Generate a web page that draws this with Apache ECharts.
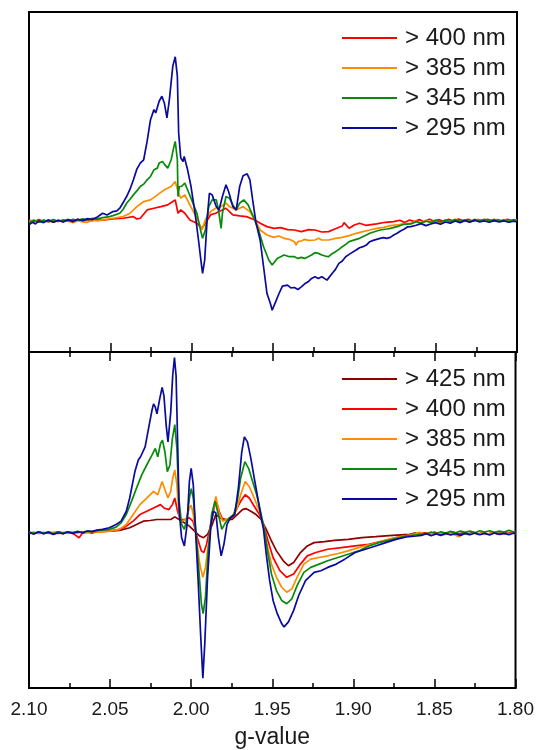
<!DOCTYPE html>
<html>
<head>
<meta charset="utf-8">
<script src="https://cdn.jsdelivr.net/npm/echarts@6/dist/echarts.min.js"></script>
<style>
html,body{margin:0;padding:0;background:#fff;}
#c{width:537px;height:750px;}
</style>
</head>
<body>
<div id="c"></div>
<script>
// ---- Data (g-value, intensity a.u.) as flat [g, v, g, v, ...] lists ----
const topLabels = ['> 400 nm', '> 385 nm', '> 345 nm', '> 295 nm'];
const botLabels = ['> 425 nm', '> 400 nm', '> 385 nm', '> 345 nm', '> 295 nm'];
const xTickLabels = ['2.10', '2.05', '2.00', '1.95', '1.90', '1.85', '1.80'];

const top400 = [2.100,0.03, 2.097,-0.03, 2.094,0.04, 2.091,-0.02, 2.088,0.03, 2.085,-0.04, 2.082,0.02, 2.079,-0.02, 2.076,0.04, 2.073,0.0, 2.070,0.05, 2.067,-0.01, 2.064,0.04, 2.061,0.01, 2.058,0.05,
 2.0547,0.02, 2.0484,0.06, 2.0421,0.08, 2.0358,0.13, 2.0337,0.06, 2.0316,0.08, 2.0274,0.33, 2.0232,0.38, 2.0189,0.43, 2.0147,0.48, 2.0116,0.58, 2.0101,0.63, 2.0084,0.23, 2.0067,0.33, 2.0042,0.23,
 2.0011,0.03, 1.9968,-0.07, 1.9937,-0.22, 1.9916,-0.07, 1.9884,0.18, 1.9853,0.23, 1.9789,0.38, 1.9747,0.18, 1.9705,0.15, 1.9663,0.13, 1.9611,0.03, 1.9579,-0.07, 1.9537,-0.17, 1.9495,-0.22, 1.9453,-0.2,
 1.941,-0.26, 1.9368,-0.27, 1.9326,-0.32, 1.928,-0.26, 1.9242,-0.27, 1.920,-0.33, 1.9158,-0.32, 1.912,-0.24, 1.9074,-0.15, 1.9063,-0.05, 1.9032,-0.22, 1.900,-0.12, 1.8968,-0.07, 1.893,-0.13, 1.8863,-0.09, 1.881,-0.04, 1.8758,-0.02,
 1.872,0.02, 1.869,-0.05, 1.866,0.03, 1.863,-0.02, 1.860,0.04, 1.857,-0.03, 1.854,0.05, 1.851,0.0, 1.848,0.04, 1.845,-0.02, 1.842,0.05, 1.839,0.0, 1.836,0.06, 1.833,0.01, 1.830,0.05, 1.827,-0.01,
 1.824,0.04, 1.821,0.01, 1.818,0.05, 1.815,-0.01, 1.812,0.04, 1.809,0.0, 1.806,0.05, 1.803,0.01, 1.800,0.03];

const top385 = [2.100,-0.02, 2.097,0.03, 2.094,-0.03, 2.091,0.02, 2.088,-0.04, 2.085,0.01, 2.082,-0.02, 2.079,0.03, 2.076,-0.01, 2.073,-0.05, 2.070,0.01, 2.067,-0.03, 2.064,-0.04, 2.061,0.02, 2.058,0.0,
 2.0547,0.03, 2.0484,0.08, 2.0421,0.13, 2.0379,0.23, 2.0337,0.43, 2.0295,0.58, 2.0253,0.63, 2.0211,0.78, 2.0168,0.93, 2.0126,1.03, 2.0101,1.18, 2.0084,0.88, 2.0067,0.68, 2.0042,0.78, 2.0011,0.48,
 1.9979,0.18, 1.9954,-0.07, 1.9937,-0.27, 1.9916,0.03, 1.9884,0.28, 1.9853,0.38, 1.9821,0.43, 1.9789,0.53, 1.9768,0.43, 1.9726,0.33, 1.9684,0.43, 1.9642,0.28, 1.9611,0.03, 1.9579,-0.27, 1.9537,-0.42,
 1.9495,-0.49, 1.9465,-0.45, 1.9432,-0.52, 1.9400,-0.55, 1.9368,-0.62, 1.9358,-0.72, 1.9347,-0.62, 1.9326,-0.60, 1.9305,-0.55, 1.9284,-0.58, 1.9242,-0.57, 1.9220,-0.52, 1.9200,-0.57, 1.9158,-0.57, 1.9116,-0.52, 1.9074,-0.49, 1.9032,-0.44,
 1.8989,-0.37, 1.8947,-0.32, 1.8905,-0.27, 1.8863,-0.22, 1.8821,-0.19, 1.8779,-0.14, 1.8737,-0.12, 1.8695,-0.08, 1.8653,-0.07,
 1.862,0.0, 1.859,-0.06, 1.856,0.02, 1.853,-0.04, 1.850,0.03, 1.847,-0.08, 1.844,0.02, 1.841,-0.03, 1.838,0.05, 1.835,-0.02, 1.832,0.03, 1.829,-0.04, 1.826,0.05, 1.823,0.01, 1.820,0.04, 1.817,-0.02,
 1.814,0.05, 1.811,0.0, 1.808,0.04, 1.805,-0.01, 1.802,0.03, 1.800,0.02];

const top345 = [2.100,-0.05, 2.097,0.02, 2.094,-0.04, 2.091,0.03, 2.088,-0.02, 2.085,0.04, 2.082,-0.01, 2.079,0.03, 2.076,0.0, 2.073,0.05, 2.070,0.02, 2.067,0.06, 2.064,0.03, 2.061,0.08, 2.058,0.06,
 2.0547,0.10, 2.0505,0.13, 2.0484,0.16, 2.0442,0.23, 2.0421,0.35, 2.0400,0.53, 2.0379,0.65, 2.0358,0.78, 2.0337,0.90, 2.0316,1.03, 2.0295,1.10, 2.0274,1.23, 2.0253,1.33, 2.0232,1.53, 2.0211,1.58,
 2.0200,1.73, 2.0179,1.78, 2.0168,1.70, 2.0147,1.58, 2.0126,1.83, 2.0109,2.23, 2.0101,2.38, 2.0088,1.83, 2.0084,0.73, 2.0076,1.03, 2.0063,1.03, 2.0042,1.13, 2.0021,0.88, 2.0000,0.63, 1.9968,0.23,
 1.9941,-0.37, 1.9933,-0.52, 1.9916,-0.27, 1.9895,0.43, 1.9874,0.63, 1.9848,0.63, 1.9832,0.23, 1.9819,-0.22, 1.9811,0.23, 1.9789,0.73, 1.9768,0.68, 1.9747,0.48, 1.9726,0.33, 1.9705,0.53, 1.9680,0.63,
 1.9653,0.48, 1.9621,0.13, 1.9589,-0.27, 1.9558,-0.77, 1.9526,-1.17, 1.9505,-1.32, 1.9474,-1.12, 1.9432,-1.02, 1.9400,-1.07, 1.9368,-1.07, 1.9347,-1.12, 1.9326,-1.09, 1.9305,-1.12, 1.9284,-1.07,
 1.9263,-1.02, 1.9242,-0.95, 1.9221,-0.97, 1.9200,-1.02, 1.9179,-1.05, 1.9158,-1.07, 1.9137,-0.98, 1.9116,-0.92, 1.9095,-0.85, 1.9074,-0.77, 1.9053,-0.70, 1.9032,-0.62, 1.8989,-0.55, 1.8968,-0.52,
 1.8926,-0.42, 1.8905,-0.37, 1.8863,-0.30, 1.8842,-0.27, 1.8800,-0.24, 1.8779,-0.22, 1.8737,-0.17, 1.8695,-0.10, 1.8653,-0.09,
 1.862,-0.02, 1.859,-0.07, 1.856,0.0, 1.853,-0.05, 1.850,0.02, 1.847,-0.03, 1.844,0.03, 1.841,-0.02, 1.838,0.04, 1.835,-0.01, 1.832,0.03, 1.829,-0.02, 1.826,0.04, 1.823,0.0, 1.820,0.05, 1.817,0.01,
 1.814,0.04, 1.811,-0.01, 1.808,0.03, 1.805,-0.02, 1.802,0.04, 1.800,-0.01];

const top295 = [2.100,-0.12, 2.098,-0.04, 2.096,-0.09, 2.094,0.0, 2.091,-0.05, 2.088,0.03, 2.085,-0.04, 2.082,0.02, 2.079,-0.03, 2.076,0.04, 2.073,-0.02, 2.070,0.05, 2.067,0.01, 2.064,0.07, 2.061,0.04, 2.058,0.12,
 2.0547,0.23, 2.052,0.18, 2.0484,0.28, 2.046,0.30, 2.0442,0.38, 2.0421,0.55, 2.0400,0.73, 2.0379,0.95, 2.0358,1.23, 2.0337,1.55, 2.0316,1.73, 2.0295,1.83, 2.0274,2.38, 2.0253,3.03, 2.0232,3.33,
 2.0221,3.23, 2.0200,3.58, 2.0183,3.73, 2.0168,3.53, 2.0152,3.08, 2.0137,3.63, 2.0116,4.63, 2.0101,4.91, 2.0088,4.33, 2.0080,2.63, 2.0067,1.88, 2.0053,1.78, 2.0046,1.93, 2.0038,1.88, 2.0025,1.53,
 2.0004,1.03, 1.9979,0.23, 1.9958,-0.57, 1.9941,-1.27, 1.9933,-1.57, 1.9920,-1.17, 1.9905,0.03, 1.9891,0.83, 1.9874,0.78, 1.9849,0.43, 1.9832,0.33, 1.9811,0.73, 1.9789,1.08, 1.9773,0.88, 1.9747,0.43,
 1.9726,0.33, 1.9705,1.03, 1.9684,1.35, 1.9659,1.41, 1.9642,1.23, 1.9625,0.63, 1.9604,-0.07, 1.9579,-0.57, 1.9558,-1.37, 1.9537,-2.17, 1.9516,-2.47, 1.9505,-2.67, 1.9484,-2.42, 1.9463,-2.17,
 1.9442,-1.95, 1.9411,-1.92, 1.9390,-2.0, 1.9368,-1.99, 1.9347,-2.05, 1.9326,-1.97, 1.9305,-1.88, 1.9284,-1.82, 1.9263,-1.72, 1.9242,-1.67, 1.9221,-1.72, 1.9200,-1.67, 1.9168,-1.77, 1.9137,-1.57,
 1.9116,-1.45, 1.9095,-1.27, 1.9074,-1.2, 1.9053,-1.07, 1.9032,-1.0, 1.8989,-0.87, 1.8968,-0.8, 1.8947,-0.77, 1.8926,-0.72, 1.8905,-0.62, 1.8884,-0.58, 1.8863,-0.55, 1.8842,-0.52, 1.8821,-0.50,
 1.8800,-0.52, 1.8779,-0.49, 1.8758,-0.42, 1.8737,-0.37, 1.8716,-0.30, 1.8695,-0.25, 1.8674,-0.18, 1.8653,-0.17,
 1.862,-0.13, 1.859,-0.08, 1.856,-0.14, 1.853,-0.09, 1.850,-0.05, 1.847,-0.1, 1.844,-0.03, 1.841,-0.07, 1.838,0.0, 1.835,-0.05, 1.832,0.01, 1.829,-0.04, 1.826,0.02, 1.823,-0.03, 1.820,0.0, 1.817,-0.04,
 1.814,0.01, 1.811,-0.03, 1.808,0.0, 1.805,-0.04, 1.802,-0.01, 1.800,-0.02];

const bot425 = [2.100,0.01, 2.097,-0.02, 2.094,0.02, 2.091,-0.02, 2.088,0.02, 2.085,-0.01, 2.082,0.03, 2.079,-0.01, 2.076,0.02, 2.073,-0.01, 2.070,0.03, 2.067,0.0, 2.064,0.03, 2.061,0.01, 2.058,0.04,
 2.0505,0.05, 2.0442,0.07, 2.0379,0.15, 2.0337,0.25, 2.0295,0.35, 2.0253,0.37, 2.0211,0.40, 2.0168,0.40, 2.0126,0.40, 2.0101,0.48, 2.0074,0.40, 2.0042,0.30, 2.0011,0.20, 1.9979,0.05, 1.9947,-0.10,
 1.9924,-0.15, 1.9899,-0.05, 1.9874,0.20, 1.9848,0.55, 1.9821,0.45, 1.9789,0.40, 1.9747,0.40, 1.9716,0.55, 1.9684,0.70, 1.9663,0.73, 1.9632,0.65, 1.9600,0.55, 1.9568,0.40, 1.9537,0.10, 1.9505,-0.25,
 1.9474,-0.55, 1.9432,-0.85, 1.9400,-1.00, 1.9368,-0.90, 1.9326,-0.60, 1.9284,-0.40, 1.9242,-0.30, 1.9179,-0.27, 1.9116,-0.23, 1.9032,-0.20, 1.8947,-0.15, 1.8863,-0.12, 1.8758,-0.08, 1.8653,-0.05,
 1.862,-0.01, 1.859,-0.05, 1.856,0.0, 1.853,-0.04, 1.850,0.01, 1.847,-0.03, 1.844,0.0, 1.841,-0.04, 1.838,0.01, 1.835,-0.03, 1.832,0.0, 1.829,-0.04, 1.826,0.01, 1.823,-0.03, 1.820,0.0, 1.817,-0.04,
 1.814,0.0, 1.811,-0.03, 1.808,0.01, 1.805,-0.02, 1.802,0.0, 1.800,-0.02];

const bot400 = [2.100,0.0, 2.097,-0.03, 2.094,0.02, 2.091,-0.02, 2.088,0.01, 2.085,-0.04, 2.082,0.01, 2.079,-0.03, 2.076,0.02, 2.073,-0.02, 2.0691,-0.15, 2.067,-0.01, 2.064,0.02, 2.061,-0.01, 2.058,0.03,
 2.0505,0.05, 2.0442,0.10, 2.0400,0.20, 2.0358,0.35, 2.0316,0.55, 2.0274,0.65, 2.0232,0.75, 2.0189,0.85, 2.0168,0.75, 2.0137,0.70, 2.0116,0.85, 2.0101,1.05, 2.0084,0.65, 2.0067,0.40, 2.0042,0.40,
 2.0011,0.45, 1.9989,0.35, 1.9962,-0.15, 1.9937,-0.55, 1.9922,-0.60, 1.9905,-0.35, 1.9884,0.15, 1.9863,0.65, 1.9848,1.00, 1.9827,0.65, 1.9806,0.40, 1.9779,0.40, 1.9747,0.45, 1.9716,0.75, 1.9695,0.95,
 1.9667,1.15, 1.9642,1.05, 1.9611,0.80, 1.9579,0.55, 1.9554,0.25, 1.9526,-0.25, 1.9495,-0.75, 1.9453,-1.15, 1.9411,-1.35, 1.9368,-1.25, 1.9326,-0.95, 1.9284,-0.70, 1.9232,-0.60, 1.9158,-0.50,
 1.9074,-0.45, 1.8989,-0.40, 1.8905,-0.35, 1.8821,-0.25, 1.8737,-0.15, 1.8653,-0.07,
 1.862,-0.02, 1.859,-0.06, 1.856,0.0, 1.853,-0.04, 1.850,0.01, 1.847,-0.05, 1.844,-0.01, 1.841,-0.04, 1.838,0.0, 1.835,-0.05, 1.832,-0.01, 1.829,-0.04, 1.826,0.0, 1.823,-0.05, 1.820,-0.01, 1.817,-0.04,
 1.814,0.0, 1.811,-0.03, 1.808,-0.01, 1.805,-0.04, 1.802,0.0, 1.800,-0.02];

const bot385 = [2.100,-0.01, 2.097,0.02, 2.094,-0.03, 2.091,0.01, 2.088,-0.02, 2.085,0.02, 2.082,-0.03, 2.079,0.01, 2.076,-0.02, 2.073,0.02, 2.070,-0.01, 2.067,0.03, 2.064,0.0, 2.061,0.04, 2.058,0.02,
 2.0505,0.05, 2.0442,0.10, 2.0400,0.25, 2.0358,0.55, 2.0316,0.85, 2.0274,1.05, 2.0232,1.25, 2.0206,1.15, 2.0179,1.55, 2.0158,1.25, 2.0143,1.05, 2.0126,1.25, 2.0114,1.65, 2.0101,1.90, 2.0088,1.45,
 2.0076,0.55, 2.0059,0.35, 2.0032,0.40, 2.0011,0.75, 2.0000,0.83, 1.9987,0.55, 1.9968,-0.15, 1.9947,-0.95, 1.9928,-1.35, 1.9912,-1.05, 1.9891,-0.25, 1.9870,0.55, 1.9848,1.10, 1.9827,0.60, 1.9806,0.35,
 1.9779,0.40, 1.9747,0.50, 1.9716,0.75, 1.9695,1.15, 1.9667,1.55, 1.9642,1.40, 1.9611,1.05, 1.9579,0.65, 1.9554,0.25, 1.9533,-0.35, 1.9505,-0.95, 1.9474,-1.35, 1.9442,-1.65, 1.9411,-1.80, 1.9379,-1.70,
 1.9347,-1.35, 1.9305,-0.95, 1.9263,-0.80, 1.9211,-0.75, 1.9158,-0.70, 1.9095,-0.63, 1.9032,-0.55, 1.8968,-0.45, 1.8905,-0.37, 1.8821,-0.25, 1.8737,-0.15, 1.8653,-0.07,
 1.862,-0.03, 1.859,0.01, 1.856,-0.04, 1.853,0.0, 1.850,-0.05, 1.847,-0.01, 1.844,-0.06, 1.841,-0.02, 1.838,-0.05, 1.835,-0.12, 1.832,-0.03, 1.829,-0.06, 1.826,-0.01, 1.823,-0.05, 1.820,0.0, 1.817,-0.04,
 1.814,0.01, 1.811,-0.04, 1.808,0.0, 1.805,-0.05, 1.802,-0.01, 1.800,-0.03];

const bot345 = [2.100,0.02, 2.097,-0.02, 2.094,0.03, 2.091,-0.01, 2.088,0.02, 2.085,-0.03, 2.082,0.03, 2.079,-0.01, 2.076,0.03, 2.073,0.0, 2.070,0.04, 2.067,0.01, 2.064,0.05, 2.061,0.03, 2.058,0.07,
 2.0505,0.10, 2.0463,0.17, 2.0432,0.30, 2.0400,0.55, 2.0368,0.95, 2.0337,1.35, 2.0305,1.75, 2.0274,2.05, 2.0242,2.35, 2.0221,2.55, 2.0206,2.30, 2.0189,2.70, 2.0177,2.80, 2.0162,2.45, 2.0147,1.85,
 2.0131,2.05, 2.0116,2.85, 2.0101,3.27, 2.0088,2.55, 2.0076,1.05, 2.0059,0.25, 2.0042,0.10, 2.0025,0.45, 2.0011,1.05, 2.0000,1.33, 1.9987,1.05, 1.9971,0.05, 1.9954,-1.05, 1.9937,-2.15, 1.9926,-2.45,
 1.9912,-1.95, 1.9895,-0.55, 1.9874,0.55, 1.9853,0.95, 1.9832,0.55, 1.9811,0.10, 1.9789,0.30, 1.9764,0.45, 1.9737,0.55, 1.9716,0.95, 1.9695,1.65, 1.9669,2.15, 1.9646,1.95, 1.9621,1.55, 1.9596,1.15,
 1.9568,0.55, 1.9547,0.05, 1.9526,-0.65, 1.9505,-1.25, 1.9474,-1.75, 1.9442,-2.05, 1.9411,-2.15, 1.9379,-2.00, 1.9347,-1.60, 1.9305,-1.20, 1.9263,-1.05, 1.9211,-0.95, 1.9158,-0.85, 1.9095,-0.75,
 1.9032,-0.65, 1.8968,-0.55, 1.8905,-0.40, 1.8842,-0.30, 1.8758,-0.20, 1.8674,-0.10, 1.8547,-0.03,
 1.852,0.02, 1.849,-0.03, 1.846,0.03, 1.843,-0.01, 1.840,0.04, 1.837,0.0, 1.834,0.05, 1.831,0.01, 1.828,0.05, 1.825,0.0, 1.822,0.06, 1.819,0.02, 1.816,0.06, 1.813,0.01, 1.810,0.05, 1.807,0.02,
 1.804,0.07, 1.801,0.02, 1.800,0.04];

const bot295 = [2.100,0.0, 2.097,-0.04, 2.094,0.02, 2.091,-0.03, 2.088,0.01, 2.085,-0.05, 2.082,0.0, 2.079,-0.03, 2.076,0.02, 2.073,-0.02, 2.070,0.03, 2.067,0.0, 2.064,0.05, 2.061,0.04, 2.058,0.08,
 2.0547,0.10, 2.0505,0.15, 2.0463,0.25, 2.0432,0.35, 2.0400,0.65, 2.0379,1.05, 2.0347,1.85, 2.0326,2.20, 2.0312,2.30, 2.0284,2.60, 2.0263,3.15, 2.0242,3.70, 2.0232,3.90, 2.0221,3.80, 2.0211,3.60,
 2.0194,4.05, 2.0179,4.40, 2.0168,4.15, 2.0154,3.25, 2.0143,2.75, 2.0126,3.65, 2.0114,4.75, 2.0103,5.30, 2.0093,4.75, 2.0084,2.85, 2.0074,0.65, 2.0059,-0.15, 2.0042,-0.40, 2.0025,0.25, 2.0011,1.55,
 2.0000,1.95, 1.9987,1.45, 1.9975,0.25, 1.9958,-1.35, 1.9941,-3.15, 1.9928,-4.40, 1.9916,-3.35, 1.9899,-1.35, 1.9878,0.25, 1.9863,0.65, 1.9848,0.60, 1.9832,-0.15, 1.9815,-0.70, 1.9798,-0.35,
 1.9779,0.25, 1.9758,0.45, 1.9731,0.55, 1.9709,1.35, 1.9688,2.45, 1.9672,2.90, 1.9653,2.75, 1.9632,2.25, 1.9611,1.65, 1.9589,1.05, 1.9568,0.45, 1.9554,0.10, 1.9537,-0.65, 1.9516,-1.45, 1.9495,-2.05,
 1.9469,-2.45, 1.9442,-2.75, 1.9427,-2.85, 1.9400,-2.70, 1.9368,-2.35, 1.9337,-1.90, 1.9295,-1.45, 1.9242,-1.20, 1.9200,-1.15, 1.9158,-1.05, 1.9105,-0.95, 1.9053,-0.80, 1.8989,-0.60, 1.8926,-0.50,
 1.8863,-0.40, 1.8800,-0.30, 1.8737,-0.20, 1.8674,-0.13, 1.8611,-0.10,
 1.858,-0.08, 1.855,-0.03, 1.852,-0.09, 1.849,-0.04, 1.846,-0.08, 1.843,-0.02, 1.840,-0.07, 1.837,-0.03, 1.834,-0.08, 1.831,-0.02, 1.828,-0.06, 1.825,-0.01, 1.822,-0.06, 1.819,-0.02, 1.816,-0.07,
 1.813,-0.01, 1.810,-0.05, 1.807,-0.02, 1.804,-0.06, 1.801,-0.01, 1.800,-0.04];

// ---- build chart ----
function pairs(a) { const out = []; for (let i = 0; i < a.length; i += 2) out.push([a[i], a[i + 1]]); return out; }

const colors = { '> 425 nm': '#8b0000', '> 400 nm': '#ff0000', '> 385 nm': '#ff8c00', '> 345 nm': '#0a8a0a', '> 295 nm': '#0a0a9e' };
const topData = [top400, top385, top345, top295];
const botData = [bot425, bot400, bot385, bot345, bot295];

const chart = echarts.init(document.getElementById('c'), null, { renderer: 'canvas' });
const FONT = 'Liberation Sans, Arial, sans-serif';
const gridL = 29, gridR = 20;

function xAxisBase(gi, pos, showLabels) {
  return {
    type: 'value', gridIndex: gi, position: pos, inverse: true,
    min: 1.80, max: 2.10, interval: 0.05,
    axisLine: { show: true, onZero: false, lineStyle: { color: '#000', width: 2 } },
    axisTick: { show: true, inside: true, length: 9, lineStyle: { color: '#000', width: 1.5 } },
    minorTick: { show: true, splitNumber: 2, length: 5, lineStyle: { color: '#000', width: 1.5 } },
    splitLine: { show: false }, minorSplitLine: { show: false },
    axisLabel: {
      show: showLabels, margin: 12, color: '#1a1a1a', fontSize: 19, fontFamily: FONT,
      formatter: v => { const i = Math.round((2.10 - v) / 0.05); return xTickLabels[i] !== undefined ? xTickLabels[i] : v.toFixed(2); }
    }
  };
}

const series = [];
topLabels.forEach((n, i) => series.push({
  name: n, type: 'line', xAxisIndex: 0, yAxisIndex: 0, data: pairs(topData[i]),
  showSymbol: false, symbol: 'none', lineStyle: { width: 1.7, color: colors[n] }, itemStyle: { color: colors[n] }, clip: true
}));
botLabels.forEach((n, i) => series.push({
  name: n, type: 'line', xAxisIndex: 1, yAxisIndex: 1, data: pairs(botData[i]),
  showSymbol: false, symbol: 'none', lineStyle: { width: 1.7, color: colors[n] }, itemStyle: { color: colors[n] }, clip: true
}));

const legendCommon = {
  orient: 'vertical', left: 342, padding: 0, icon: 'rect', itemWidth: 55, itemHeight: 2, itemGap: 6,
  textStyle: { fontSize: 24, lineHeight: 24, color: '#1a1a1a', fontFamily: FONT, padding: [0, 0, 0, 3] },
  selectedMode: false
};

chart.setOption({
  animation: false,
  backgroundColor: '#fff',
  grid: [
    { left: gridL, right: gridR, top: 12, height: 340, show: true, borderColor: '#000', borderWidth: 2 },
    { left: gridL, right: gridR, top: 352, height: 340, show: true, borderColor: '#000', borderWidth: 2 }
  ],
  xAxis: [
    xAxisBase(0, 'bottom', false),
    Object.assign(xAxisBase(1, 'bottom', true), {
      name: 'g-value', nameLocation: 'middle', nameGap: 38,
      nameTextStyle: { fontSize: 23, color: '#1a1a1a', fontFamily: FONT }
    }),
    xAxisBase(1, 'top', false)
  ],
  yAxis: [
    { type: 'value', gridIndex: 0, min: -3.92, max: 6.25, show: false },
    { type: 'value', gridIndex: 1, min: -4.70, max: 5.47, show: false }
  ],
  legend: [
    Object.assign({}, legendCommon, { top: 26, data: topLabels }),
    Object.assign({}, legendCommon, { top: 367, data: botLabels })
  ],
  series: series
});
</script>
</body>
</html>
